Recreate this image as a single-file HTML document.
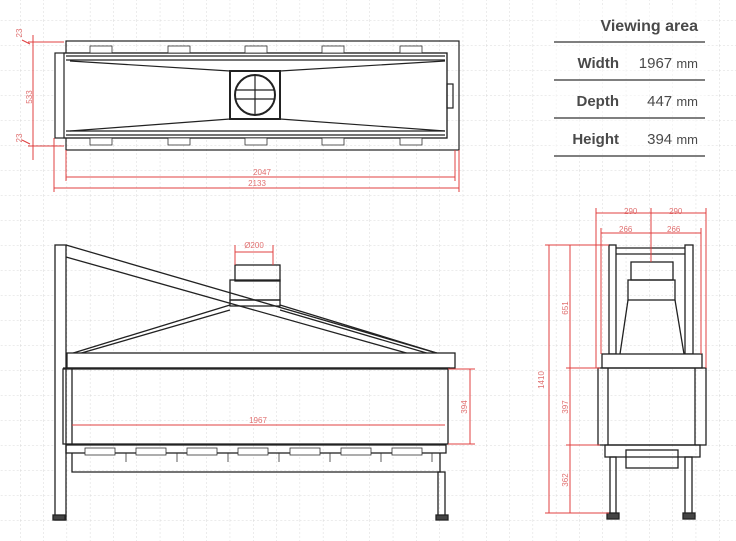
<!DOCTYPE html>
<html><head><style>
body{margin:0;background:#fff;width:736px;height:541px;overflow:hidden;font-family:"Liberation Sans",sans-serif}
svg{position:absolute;left:0;top:0}
</style></head><body>
<svg width="736" height="541" viewBox="0 0 736 541">
<defs>
<pattern id="g" width="23.3" height="25" patternUnits="userSpaceOnUse" x="20" y="20">
<path d="M0 0V25M0 0H23.3" stroke="#d8d8d8" stroke-width="1" stroke-dasharray="2 2" fill="none"/>
</pattern>
</defs>
<rect width="736" height="541" fill="url(#g)"/>
<rect x="552" y="5" width="155" height="155" fill="#fff" opacity="0.5"/>
<!-- table -->
<g fill="#4a4a4a" font-size="15">
<text x="698" y="31" text-anchor="end" font-weight="bold" font-size="16">Viewing area</text>
<text x="619" y="68" text-anchor="end" font-weight="bold">Width</text>
<text x="698" y="68" text-anchor="end">1967 <tspan font-size="13">mm</tspan></text>
<text x="619" y="106" text-anchor="end" font-weight="bold">Depth</text>
<text x="698" y="106" text-anchor="end">447 <tspan font-size="13">mm</tspan></text>
<text x="619" y="144" text-anchor="end" font-weight="bold">Height</text>
<text x="698" y="144" text-anchor="end">394 <tspan font-size="13">mm</tspan></text>
</g>
<g stroke="#555" stroke-width="1.5"><path d="M554 42H705M554 80H705M554 118H705M554 156H705"/></g>

<!-- TOP VIEW -->
<g fill="none" stroke="#222" stroke-width="1.2">
<rect x="66" y="41" width="393" height="109"/>
<rect x="55" y="53" width="392" height="85" fill="#fff"/>
<rect x="64" y="53" width="383" height="85"/>
<path d="M66 56H445M66 60H445M66 131H445M66 135H445"/>
<path d="M70 61L230 71M70 131L230 119M280 71L445 61M280 119L445 131"/>
<rect x="230" y="71" width="50" height="48" stroke-width="2"/>
<circle cx="255" cy="95" r="20" stroke-width="2"/>
<path d="M236 90H274M236 99H274M255 76V114"/>
<rect x="447" y="84" width="6" height="24"/>
</g>
<g fill="#fff" stroke="#333" stroke-width="0.8">
<rect x="90" y="46" width="22" height="7"/><rect x="168" y="46" width="22" height="7"/><rect x="245" y="46" width="22" height="7"/><rect x="322" y="46" width="22" height="7"/><rect x="400" y="46" width="22" height="7"/>
<rect x="90" y="138" width="22" height="7"/><rect x="168" y="138" width="22" height="7"/><rect x="245" y="138" width="22" height="7"/><rect x="322" y="138" width="22" height="7"/><rect x="400" y="138" width="22" height="7"/>
</g>
<g stroke="#e04040" stroke-width="1" fill="none">
<path d="M33 35V160M28 42H64M28 146H64M66 150V181M455 150V181M66 177H455M54 138V192M459 150V192M54 188H459M22 40L30 44M22 140L30 144"/>
</g>
<g fill="#e07070" font-size="8">
<text x="262" y="175" text-anchor="middle">2047</text>
<text x="257" y="186" text-anchor="middle">2133</text>
<text x="32" y="97" transform="rotate(-90 32 97)" text-anchor="middle">533</text>
<text x="22" y="33" transform="rotate(-90 22 33)" text-anchor="middle">23</text>
<text x="22" y="138" transform="rotate(-90 22 138)" text-anchor="middle">23</text>
</g>

<!-- FRONT VIEW -->
<g fill="none" stroke="#222" stroke-width="1.3">
<rect x="55" y="245" width="11" height="275" fill="#fff"/>
<path d="M66 245L440 354M66 257L410 354"/>
<path d="M70 354L230 305M78 354L230 310M280 305L440 354M280 310L430 354"/>
<rect x="235" y="265" width="45" height="16"/>
<rect x="230" y="280" width="50" height="20"/>
<rect x="230" y="300" width="50" height="6"/>
<rect x="67" y="353" width="388" height="15" fill="#fff"/>
<rect x="63" y="369" width="385" height="75"/>
<path d="M72 369V444M63 368H450" />
<rect x="66" y="445" width="380" height="8"/>
<path d="M72 453V472H440V453"/>
<rect x="438" y="472" width="7" height="45"/>
<rect x="53" y="515" width="12" height="5" fill="#444"/>
<rect x="436" y="515" width="12" height="5" fill="#444"/>
</g>
<g stroke="#333" stroke-width="0.8"><path d="M126 453V462M177 453V462M228 453V462M279 453V462M330 453V462M381 453V462M432 453V462"/></g>
<g fill="#fff" stroke="#333" stroke-width="0.8">
<rect x="85" y="448" width="30" height="7"/><rect x="136" y="448" width="30" height="7"/><rect x="187" y="448" width="30" height="7"/><rect x="238" y="448" width="30" height="7"/><rect x="290" y="448" width="30" height="7"/><rect x="341" y="448" width="30" height="7"/><rect x="392" y="448" width="30" height="7"/>
</g>
<g stroke="#e04040" stroke-width="1" fill="none">
<path d="M235 245V265M273 245V265M235 252H273M72 425H445M448 369H475M448 444H475M470 369V444"/>
</g>
<g fill="#e07070" font-size="8">
<text x="254" y="248" text-anchor="middle">Ø200</text>
<text x="258" y="423" text-anchor="middle">1967</text>
<text x="467" y="407" transform="rotate(-90 467 407)" text-anchor="middle">394</text>
</g>

<!-- SIDE VIEW -->
<g fill="none" stroke="#222" stroke-width="1.3">
<rect x="609" y="245" width="7" height="109"/>
<rect x="685" y="245" width="8" height="109"/>
<path d="M616 248H685M616 254H685"/>
<rect x="631" y="262" width="42" height="18"/>
<rect x="628" y="280" width="47" height="20"/>
<path d="M628 300L620 354M675 300L684 354"/>
<rect x="602" y="354" width="100" height="14" fill="#fff"/>
<rect x="598" y="368" width="108" height="77"/>
<path d="M608 368V445M695 368V445"/>
<rect x="605" y="445" width="95" height="12"/>
<rect x="626" y="450" width="52" height="18"/>
<rect x="610" y="457" width="6" height="58"/>
<rect x="685" y="457" width="7" height="58"/>
<rect x="607" y="513" width="12" height="6" fill="#444"/>
<rect x="683" y="513" width="12" height="6" fill="#444"/>
</g>
<g stroke="#e04040" stroke-width="1" fill="none">
<path d="M596 208V368M706 208V368M601 228V354M701 228V354M596 213H706M601 233H701M651 208V262M549 245V513M570 245V513M545 245H609M545 513H609M566 368H600M566 445H600"/>
</g>
<g fill="#e07070" font-size="8">
<text x="624" y="214">290</text><text x="669" y="214">290</text>
<text x="619" y="232">266</text><text x="667" y="232">266</text>
<text x="544" y="380" transform="rotate(-90 544 380)" text-anchor="middle">1410</text>
<text x="568" y="308" transform="rotate(-90 568 308)" text-anchor="middle">651</text>
<text x="568" y="407" transform="rotate(-90 568 407)" text-anchor="middle">397</text>
<text x="568" y="480" transform="rotate(-90 568 480)" text-anchor="middle">362</text>
</g>
</svg>
</body></html>
